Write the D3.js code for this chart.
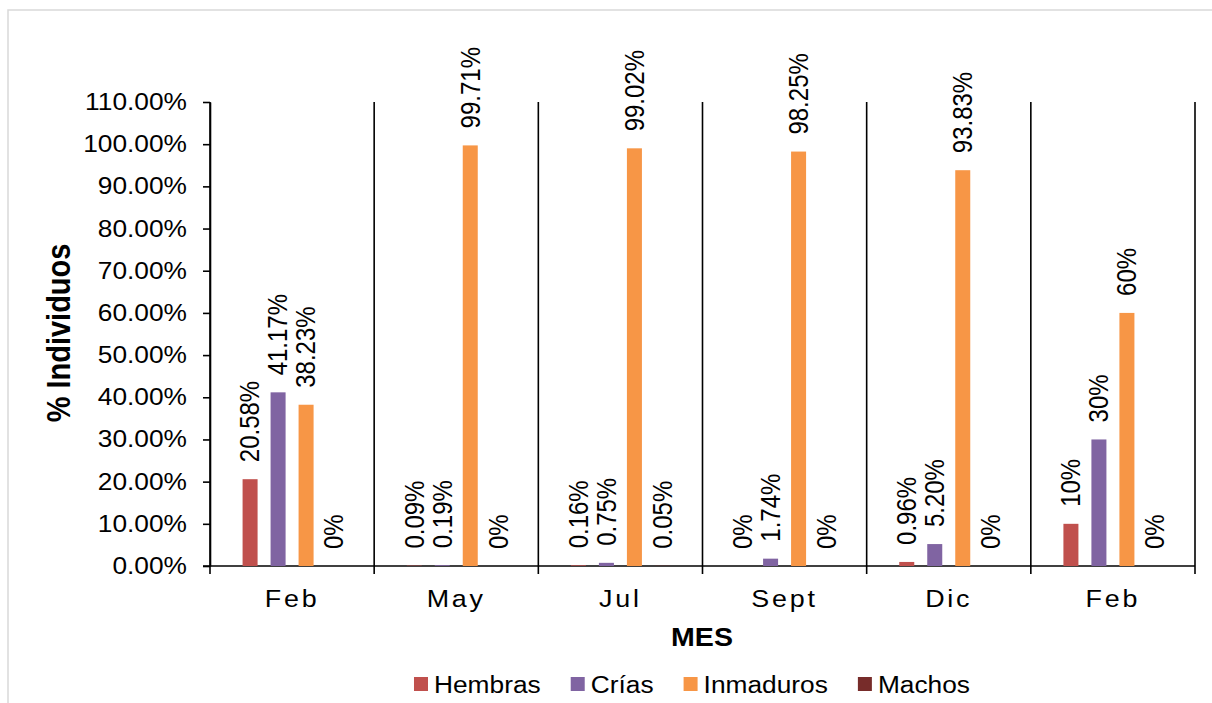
<!DOCTYPE html>
<html>
<head>
<meta charset="utf-8">
<script src="https://cdn.jsdelivr.net/npm/d3@7"></script>
<style>
  html, body { margin: 0; padding: 0; background: #ffffff; }
  svg { display: block; font-family: "Liberation Sans", Arial, sans-serif; }
</style>
</head>
<body>
<svg id="chart" width="1212" height="703"></svg>
<script>
// Sampling months (x categories)
const months = ["Feb", "May", "Jul", "Sept", "Dic", "Feb"];

// Series names and colours
const seriesNames = ["Hembras", "Crías", "Inmaduros", "Machos"];
const seriesColors = ["#C0504D", "#8064A2", "#F79646", "#772C2A"];

// Percentage of individuals per month, one array per series
const hembras   = [20.58, 0.09, 0.16, 0,     0.96, 10];
const crias     = [41.17, 0.19, 0.75, 1.74,  5.20, 30];
const inmaduros = [38.23, 99.71, 99.02, 98.25, 93.83, 60];
const machos    = [0,     0,    0.05, 0,     0,    0];

// Y axis ticks (fractions)
const yTicks = [0, 0.1, 0.2, 0.3, 0.4, 0.5, 0.6, 0.7, 0.8, 0.9, 1.0, 1.1];

const seriesValues = [hembras, crias, inmaduros, machos];

const svg = d3.select("#chart");
const FONT_SX = 1.12; // horizontal glyph stretch of all text

// Outer frame
svg.append("rect")
  .attr("x", 8).attr("y", 10)
  .attr("width", 1400).attr("height", 900)
  .attr("fill", "none")
  .attr("stroke", "#D9D9D9")
  .attr("stroke-width", 1.5);

const plot = { left: 210, right: 1195, top: 102, bottom: 566 };

const y = d3.scaleLinear().domain([0, 1.1]).range([plot.bottom, plot.top]);
const x0 = d3.scaleBand().domain(d3.range(months.length))
  .range([plot.left, plot.right]).padding(0);
const x1 = d3.scaleBand().domain(d3.range(seriesNames.length))
  .range([0, 112]).paddingInner(0.464).paddingOuter(0.232);

// Vertical category separators (extend below the axis as tick marks)
const seps = d3.range(months.length + 1).map(i => plot.left + i * x0.step());
svg.append("g").selectAll("line").data(seps).join("line")
  .attr("x1", d => d).attr("x2", d => d)
  .attr("y1", plot.top).attr("y2", plot.bottom + 8)
  .attr("stroke", "#000").attr("stroke-width", 1.6);

// Y axis
const yAxis = svg.append("g")
  .attr("transform", `translate(${plot.left},0)`)
  .call(d3.axisLeft(y).tickValues(yTicks).tickFormat(d3.format(".2%")).tickSize(7).tickSizeOuter(0));
yAxis.select(".domain").attr("stroke", "#000").attr("stroke-width", 1.6);
yAxis.selectAll(".tick line").attr("stroke", "#000").attr("stroke-width", 1.6);
yAxis.selectAll(".tick text")
  .attr("x", null)
  .attr("transform", `translate(-23,0) scale(${FONT_SX},1)`)
  .attr("font-size", 23.5)
  .attr("font-family", "Liberation Sans, Arial, sans-serif")
  .attr("fill", "#000");

// X axis baseline
svg.append("line")
  .attr("x1", plot.left - 7).attr("x2", plot.right)
  .attr("y1", y(0)).attr("y2", y(0))
  .attr("stroke", "#000").attr("stroke-width", 1.6);

// Month labels
svg.append("g").selectAll("text").data(months).join("text")
  .attr("transform", (d, i) => `translate(${x0(i) + x0.bandwidth() / 2},607) scale(${FONT_SX},1)`)
  .attr("text-anchor", "middle")
  .attr("font-size", 24)
  .attr("letter-spacing", 2.5)
  .attr("fill", "#000")
  .text(d => d);

// Bars and value labels
const fmt = v => Number.isInteger(v) ? v + "%" : v.toFixed(2) + "%";
const cells = [];
months.forEach((m, i) => {
  seriesValues.forEach((vals, s) => {
    cells.push({ i, s, v: vals[i] });
  });
});

const barX = d => x0(d.i) + x0.bandwidth() / 2 - 56 + x1(d.s);

svg.append("g").selectAll("rect").data(cells).join("rect")
  .attr("x", barX)
  .attr("y", d => y(d.v / 100))
  .attr("width", x1.bandwidth())
  .attr("height", d => y(0) - y(d.v / 100))
  .attr("fill", d => seriesColors[d.s]);

svg.append("g").selectAll("text").data(cells).join("text")
  .attr("transform", d => `translate(${barX(d) + x1.bandwidth() / 2},${y(d.v / 100) - 17}) scale(${FONT_SX},1) rotate(-90)`)
  .attr("dy", "0.35em")
  .attr("text-anchor", "start")
  .attr("font-size", 24)
  .attr("fill", "#000")
  .text(d => fmt(d.v));

// Axis titles
svg.append("text")
  .attr("transform", `translate(702,646) scale(${FONT_SX},1)`)
  .attr("text-anchor", "middle")
  .attr("font-size", 25.5)
  .attr("font-weight", "bold")
  .attr("fill", "#000")
  .text("MES");

svg.append("text")
  .attr("transform", `translate(70,333) scale(${FONT_SX},1) rotate(-90)`)
  .attr("text-anchor", "middle")
  .attr("font-size", 29)
  .attr("font-weight", "bold")
  .attr("fill", "#000")
  .text("% Individuos");

// Legend
const legend = svg.append("g");
let lx = 0;
seriesNames.forEach((name, s) => {
  const item = legend.append("g").attr("transform", `translate(${lx},0)`);
  item.append("rect")
    .attr("x", 0).attr("y", 677)
    .attr("width", 14).attr("height", 14)
    .attr("fill", seriesColors[s]);
  const t = item.append("text")
    .attr("transform", `translate(20,693) scale(${FONT_SX},1)`)
    .attr("font-size", 23.5)
    .attr("fill", "#000")
    .text(name);
  const w = t.node().getComputedTextLength() * FONT_SX;
  lx += 20 + w + 30;
});
const legendWidth = lx - 30;
legend.attr("transform", `translate(${692 - legendWidth / 2},0)`);
</script>
</body>
</html>
